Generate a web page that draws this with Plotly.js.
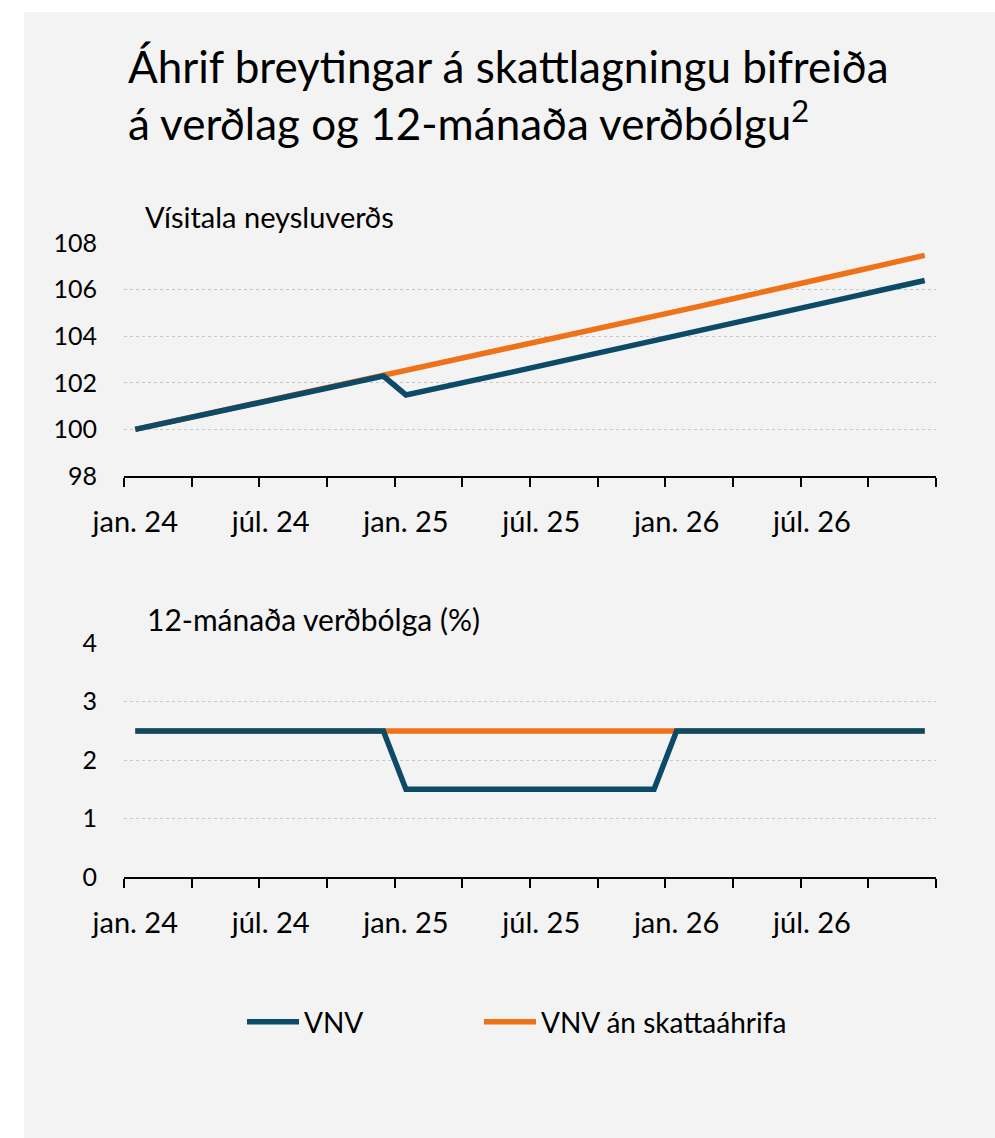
<!DOCTYPE html>
<html>
<head>
<meta charset="utf-8">
<script src="https://cdn.plot.ly/plotly-3.0.1.min.js"></script>
<style>
  html, body { margin: 0; padding: 0; background: #ffffff; }
  #chart { position: absolute; left: 24px; top: 12px; width: 971px; height: 1126px; }
</style>
</head>
<body>
<div id="chart"></div>
<script>
// Months Jan 2024 .. Dec 2026 (index 0..35)
const months = ["jan. 24","feb. 24","mar. 24","apr. 24","maí 24","jún. 24","júl. 24","ágú. 24","sep. 24","okt. 24","nóv. 24","des. 24",
                "jan. 25","feb. 25","mar. 25","apr. 25","maí 25","jún. 25","júl. 25","ágú. 25","sep. 25","okt. 25","nóv. 25","des. 25",
                "jan. 26","feb. 26","mar. 26","apr. 26","maí 26","jún. 26","júl. 26","ágú. 26","sep. 26","okt. 26","nóv. 26","des. 26"];
const tickLabels = ["jan. 24","júl. 24","jan. 25","júl. 25","jan. 26","júl. 26"];
const tickIdx = [0, 6, 12, 18, 24, 30];

// Vísitala neysluverðs
const cpiVNV = [100.00,100.21,100.41,100.62,100.83,101.04,101.24,101.45,101.66,101.87,102.08,102.29,
                101.48,101.68,101.89,102.10,102.31,102.52,102.74,102.95,103.16,103.37,103.58,103.80,
                104.01,104.23,104.44,104.66,104.87,105.09,105.30,105.52,105.74,105.96,106.17,106.39];
const cpiNoTax = [100.00,100.21,100.41,100.62,100.83,101.04,101.24,101.45,101.66,101.87,102.08,102.29,
                  102.50,102.71,102.92,103.14,103.35,103.56,103.77,103.99,104.20,104.42,104.63,104.85,
                  105.06,105.28,105.50,105.71,105.93,106.15,106.37,106.59,106.81,107.03,107.25,107.47];

// 12-mánaða verðbólga (%)
const inflVNV = [2.5,2.5,2.5,2.5,2.5,2.5,2.5,2.5,2.5,2.5,2.5,2.5,
                 1.5,1.5,1.5,1.5,1.5,1.5,1.5,1.5,1.5,1.5,1.5,1.5,
                 2.5,2.5,2.5,2.5,2.5,2.5,2.5,2.5,2.5,2.5,2.5,2.5];
const inflNoTax = [2.5,2.5,2.5,2.5,2.5,2.5,2.5,2.5,2.5,2.5,2.5,2.5,
                   2.5,2.5,2.5,2.5,2.5,2.5,2.5,2.5,2.5,2.5,2.5,2.5,
                   2.5,2.5,2.5,2.5,2.5,2.5,2.5,2.5,2.5,2.5,2.5,2.5];

const NAVY = '#0b4b67';
const ORANGE = '#ef7118';
const FONT = 'Lato, "Open Sans", sans-serif';

const idx = months.map((m, i) => i);
const boundaries = [];
for (let i = 0; i <= 36; i += 3) boundaries.push(i - 0.5);

const W = 971, H = 1126, ML = 100, MR = 59, MT = 231, MB = 261;
const PH = H - MT - MB, PW = W - ML - MR;
const py = (ydiv) => (H - MB - ydiv) / PH;
const px = (xdiv) => (xdiv - ML) / PW;

const traces = [
  {x: idx, y: cpiNoTax, text: months, type: 'scatter', mode: 'lines', name: 'VNV án skattaáhrifa',
   line: {color: ORANGE, width: 5.5}, xaxis: 'x', yaxis: 'y', legend: 'legend2', hovertemplate: '%{text}: %{y}<extra></extra>'},
  {x: idx, y: cpiVNV, text: months, type: 'scatter', mode: 'lines', name: 'VNV',
   line: {color: NAVY, width: 5.5}, xaxis: 'x', yaxis: 'y', legend: 'legend', hovertemplate: '%{text}: %{y}<extra></extra>'},
  {x: idx, y: inflNoTax, text: months, type: 'scatter', mode: 'lines', name: 'VNV án skattaáhrifa',
   line: {color: ORANGE, width: 5.5}, xaxis: 'x2', yaxis: 'y2', showlegend: false, hovertemplate: '%{text}: %{y}<extra></extra>'},
  {x: idx, y: inflVNV, text: months, type: 'scatter', mode: 'lines', name: 'VNV',
   line: {color: NAVY, width: 5.5}, xaxis: 'x2', yaxis: 'y2', showlegend: false, hovertemplate: '%{text}: %{y}<extra></extra>'}
];

function xAxis(anchor) {
  return {
    anchor: anchor, domain: [0, 1], range: [-0.5, 35.5],
    tickmode: 'array', tickvals: tickIdx, ticktext: tickLabels,
    ticks: '', showgrid: false, zeroline: false,
    showline: true, linecolor: '#000000', linewidth: 2,
    tickfont: {family: FONT, size: 29, color: '#000000'},
    ticklabelstandoff: 19,
    minor: {tickmode: 'array', tickvals: boundaries, ticks: 'outside', ticklen: 9, tickwidth: 2, tickcolor: '#000000', showgrid: false},
    fixedrange: true
  };
}
function yAxis(anchor, domain, range, dtick) {
  return {
    anchor: anchor, domain: domain, range: range, tickmode: 'linear', tick0: range[0], dtick: dtick,
    ticks: '', showline: false, zeroline: false,
    showgrid: true, gridcolor: '#c8c8c8', gridwidth: 1, griddash: '3px,3px',
    tickfont: {family: FONT, size: 25, color: '#000000'},
    ticklabelstandoff: 26,
    fixedrange: true
  };
}

const legendBase = {
  orientation: 'h', xanchor: 'left', y: py(1010), yanchor: 'middle',
  font: {family: FONT, size: 28, color: '#000000'},
  itemwidth: 52, bgcolor: 'rgba(0,0,0,0)'
};

const layout = {
  width: W, height: H,
  margin: {l: ML, r: MR, t: MT, b: MB, pad: 0},
  paper_bgcolor: '#f3f3f3', plot_bgcolor: 'rgba(0,0,0,0)',
  font: {family: FONT, color: '#000000'},
  title: {
    text: 'Áhrif breytingar á skattlagningu bifreiða<br>á verðlag og 12-mánaða verðbólgu<sup>2</sup>',
    xref: 'container', yref: 'container', x: 104 / W, xanchor: 'left',
    y: 1 - 71 / H, yanchor: 'top',
    font: {family: FONT, size: 44, color: '#000000'}
  },
  xaxis: xAxis('y'),
  yaxis: yAxis('x', [py(464), 1], [98, 108], 2),
  xaxis2: xAxis('y2'),
  yaxis2: yAxis('x2', [0, py(631.3)], [0, 4], 1),
  showlegend: true,
  legend: Object.assign({}, legendBase, {x: px(218)}),
  legend2: Object.assign({}, legendBase, {x: px(455)}),
  annotations: [
    {text: 'Vísitala neysluverðs', xref: 'paper', yref: 'paper', x: px(119), y: py(204),
     xanchor: 'left', yanchor: 'middle', showarrow: false, font: {family: FONT, size: 29, color: '#000000'}},
    {text: '12-mánaða verðbólga (%)', xref: 'paper', yref: 'paper', x: px(121), y: py(607),
     xanchor: 'left', yanchor: 'middle', showarrow: false, font: {family: FONT, size: 30, color: '#000000'}}
  ]
};

Plotly.newPlot('chart', traces, layout, {displayModeBar: false, staticPlot: false, responsive: false});
</script>
</body>
</html>
